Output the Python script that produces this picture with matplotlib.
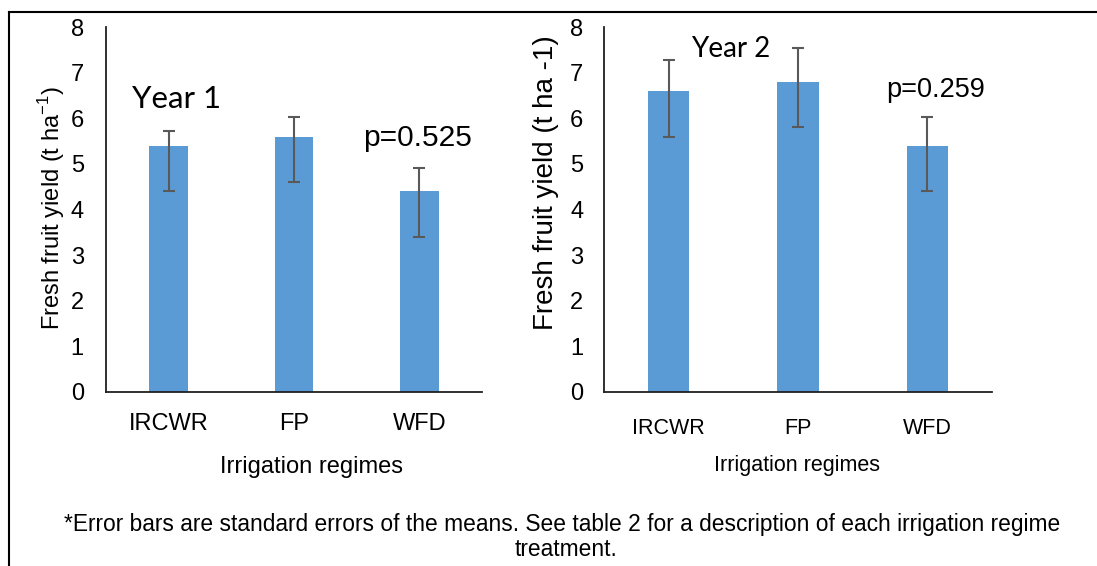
import matplotlib
matplotlib.use("Agg")
import matplotlib.pyplot as plt
from matplotlib.lines import Line2D

# data
regimes = ["IRCWR", "FP", "WFD"]
year1_yield = [5.4, 5.6, 4.4]
year1_err_up = [0.32, 0.42, 0.5]
year1_err_down = [1.0, 1.0, 1.0]
year2_yield = [6.6, 6.8, 5.4]
year2_err_up = [0.68, 0.73, 0.63]
year2_err_down = [1.0, 1.0, 1.0]
y_ticks = [0, 1, 2, 3, 4, 5, 6, 7, 8]

bar_color = "#5B9BD5"
err_color = "#595959"

plt.rcParams["font.family"] = ["Liberation Sans", "DejaVu Sans"]

W, H = 1097, 566
fig = plt.figure(figsize=(W / 100, H / 100), dpi=100)


def px_axes(x0, y0, x1, y1):
    # pixel box (top-left origin) -> figure axes
    return fig.add_axes([x0 / W, 1 - y1 / H, (x1 - x0) / W, (y1 - y0) / H])


def draw_panel(ax, vals, up, down, xsize, ysize, xpad, ypad, width):
    x = range(len(regimes))
    ax.bar(x, vals, width=width, color=bar_color, zorder=2)
    ax.errorbar(x, vals, yerr=[down, up], fmt="none", ecolor=err_color,
                elinewidth=1.5, capsize=4, capthick=1.5, zorder=3)
    ax.set_xlim(-0.5, len(regimes) - 0.5)
    ax.set_ylim(0, 8)
    ax.set_yticks(y_ticks)
    ax.set_xticks(list(x))
    ax.set_xticklabels(regimes, size=xsize)
    ax.set_yticklabels([str(t) for t in y_ticks], size=ysize)
    ax.tick_params(axis="both", length=0, colors="#000000")
    ax.tick_params(axis="x", pad=xpad)
    ax.tick_params(axis="y", pad=ypad)
    for s in ["top", "right"]:
        ax.spines[s].set_visible(False)
    for s in ["left", "bottom"]:
        ax.spines[s].set_color("#202020")
        ax.spines[s].set_linewidth(1.3)


ax1 = px_axes(106, 27, 482, 392)
draw_panel(ax1, year1_yield, year1_err_up, year1_err_down, 17, 17, 15, 16, 0.31)
ax2 = px_axes(604, 27, 992, 392)
draw_panel(ax2, year2_yield, year2_err_up, year2_err_down, 15.5, 17, 19, 15, 0.32)

# panel labels and p values
fig.text(177 / W, 1 - 99 / H, "Year 1", family=["Lato", "DejaVu Sans"],
         size=22.5, ha="center", va="center")
fig.text(731 / W, 1 - 49 / H, "Year 2", family=["Lato", "DejaVu Sans"],
         size=20, ha="center", va="center")
fig.text(418 / W, 1 - 138 / H, "p=0.525", size=21.5, ha="center", va="center")
fig.text(936 / W, 1 - 90 / H, "p=0.259", size=19.5, ha="center", va="center")

# axis titles
fig.text(311 / W, 1 - 467 / H, "Irrigation regimes", size=17,
         ha="center", va="center")
fig.text(797 / W, 1 - 465 / H, "Irrigation regimes", size=15.5,
         ha="center", va="center")
fig.text(52 / W, 1 - 208 / H, "Fresh fruit yield (t ha$^{\\mathregular{-1}}$)",
         size=17, rotation=90, ha="center", va="center")
fig.text(546 / W, 1 - 183 / H, "Fresh fruit yield (t ha -1)", size=20,
         rotation=90, ha="center", va="center")

# footnote
fig.text(562 / W, 1 - 524 / H,
         "*Error bars are standard errors of the means. See table 2 for a "
         "description of each irrigation regime", size=16.4, ha="center", va="center")
fig.text(566 / W, 1 - 550 / H, "treatment.", size=16.4, ha="center", va="center")

# frame lines on the left and top
fig.add_artist(Line2D([9 / W, 9 / W], [0, 1 - 12 / H], color="black", lw=1.5))
fig.add_artist(Line2D([9 / W, 1], [1 - 12 / H, 1 - 12 / H], color="black", lw=1.5))

fig.savefig("out.png", dpi=100)
